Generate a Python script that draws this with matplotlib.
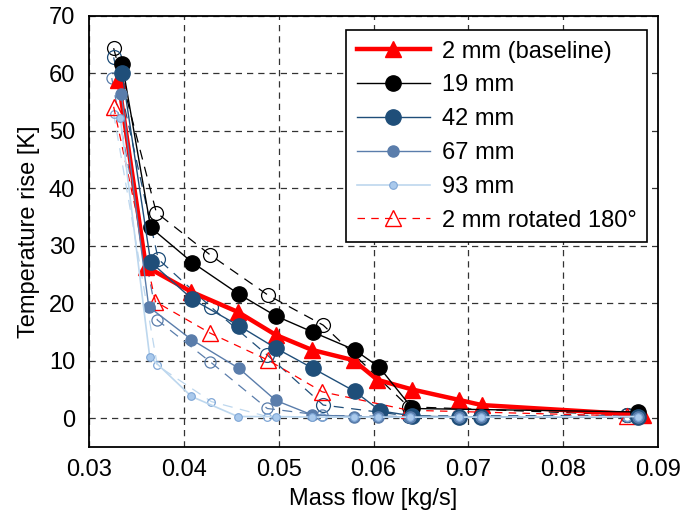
import matplotlib
matplotlib.use("Agg")
import matplotlib.pyplot as plt

# ---- data ----
m_2mm = [0.0331, 0.0360, 0.0408, 0.0457, 0.0497, 0.0535, 0.0579, 0.0604, 0.0641, 0.0690, 0.0714, 0.0884]
t_2mm = [58.8, 26.4, 22.0, 18.5, 14.5, 11.9, 10.1, 6.7, 5.0, 3.2, 2.3, 0.6]

m_19 = [0.0335, 0.0365, 0.0409, 0.0458, 0.0497, 0.0536, 0.0580, 0.0606, 0.0641, 0.0879]
t_19 = [61.7, 33.2, 27.1, 21.6, 17.8, 15.0, 11.9, 8.9, 1.7, 1.1]

m_42 = [0.0335, 0.0365, 0.0409, 0.0458, 0.0497, 0.0536, 0.0580, 0.0607, 0.0641, 0.0690, 0.0713, 0.0879]
t_42 = [60.0, 27.2, 20.7, 16.1, 12.2, 8.7, 4.7, 1.3, 0.4, 0.2, 0.2, 0.3]

m_67 = [0.0334, 0.0363, 0.0408, 0.0458, 0.0497, 0.0535, 0.0579, 0.0605, 0.0638, 0.0690, 0.0713, 0.0879]
t_67 = [56.5, 19.4, 13.7, 8.7, 3.1, 0.6, 0.3, 0.2, 0.2, 0.2, 0.2, 0.3]

m_93 = [0.0333, 0.0364, 0.0408, 0.0457, 0.0497, 0.0535, 0.0579, 0.0605, 0.0638, 0.0690, 0.0713, 0.0879]
t_93 = [52.3, 10.7, 3.8, 0.3, 0.3, 0.2, 0.2, 0.2, 0.2, 0.2, 0.2, 0.3]

# rotated 180 deg (open markers, dashed)
m_2mm_r = [0.0326, 0.0370, 0.0428, 0.0489, 0.0546, 0.0637, 0.0867]
t_2mm_r = [54.2, 20.3, 14.8, 10.1, 4.6, 1.4, 0.4]

m_19_r = [0.0326, 0.0371, 0.0428, 0.0489, 0.0547, 0.0637, 0.0867]
t_19_r = [64.4, 35.8, 28.4, 21.4, 16.2, 2.0, 0.6]

m_42_r = [0.0326, 0.0373, 0.0429, 0.0488, 0.0547, 0.0637, 0.0867]
t_42_r = [62.8, 27.7, 19.3, 11.0, 2.3, 0.4, 0.5]

m_67_r = [0.0324, 0.0372, 0.0428, 0.0488, 0.0546, 0.0637, 0.0867]
t_67_r = [59.2, 17.1, 9.8, 1.7, 0.5, 0.3, 0.4]

m_93_r = [0.0326, 0.0372, 0.0429, 0.0488, 0.0546, 0.0637, 0.0867]
t_93_r = [53.0, 9.2, 2.9, 0.3, 0.2, 0.2, 0.3]

x_ticks = [0.03, 0.04, 0.05, 0.06, 0.07, 0.08, 0.09]
x_ticklabels = ["0.03", "0.04", "0.05", "0.06", "0.07", "0.08", "0.09"]
y_ticks = [0, 10, 20, 30, 40, 50, 60, 70]

labels = ["2 mm (baseline)", "19 mm", "42 mm", "67 mm", "93 mm", "2 mm rotated 180°"]

# ---- style ----
plt.rcParams['font.family'] = ['Liberation Sans', 'DejaVu Sans']
FS = 17

RED = '#ff0000'
BLACK = '#000000'
DARK = '#1f4e79'
MID = '#5a7dab'
LIGHT_FACE = '#a9c9ec'
LIGHT_EDGE = '#7ea6d6'
LIGHT_LINE = '#bdd7ee'

fig = plt.figure(figsize=(6.83, 5.14), dpi=100)
ax = fig.add_axes([89/683, 67/514, (658-89)/683, (447-16)/514])

dash = (0, (8, 6))

# rotated series (dashed, open markers)
ax.plot(m_19_r, t_19_r, linestyle=dash, color=BLACK, lw=0.9, marker='o', ms=10,
        mfc='none', mec=BLACK, mew=0.9, label='_nolegend_', zorder=2)
ax.plot(m_42_r, t_42_r, linestyle=dash, color=DARK, lw=0.9, marker='o', ms=10,
        mfc='none', mec=DARK, mew=0.9, label='_nolegend_', zorder=2)
ax.plot(m_67_r, t_67_r, linestyle=dash, color=MID, lw=0.9, marker='o', ms=8,
        mfc='none', mec=MID, mew=0.9, label='_nolegend_', zorder=2)
ax.plot(m_93_r, t_93_r, linestyle=dash, color=LIGHT_LINE, lw=0.9, marker='o', ms=5.5,
        mfc='none', mec=LIGHT_EDGE, mew=0.9, label='_nolegend_', zorder=2)

# baseline
l_2 = ax.plot(m_2mm, t_2mm, '-', color=RED, lw=3.2, marker='^', ms=12,
              mfc=RED, mec=RED, label=labels[0], zorder=3)[0]
l_19 = ax.plot(m_19, t_19, '-', color=BLACK, lw=1.0, marker='o', ms=11,
               mfc=BLACK, mec=BLACK, label=labels[1], zorder=4)[0]
l_42 = ax.plot(m_42, t_42, '-', color=DARK, lw=1.0, marker='o', ms=11,
               mfc=DARK, mec=DARK, label=labels[2], zorder=4)[0]
l_67 = ax.plot(m_67, t_67, '-', color=MID, lw=1.0, marker='o', ms=8,
               mfc=MID, mec=MID, label=labels[3], zorder=4)[0]
l_93 = ax.plot(m_93, t_93, '-', color=LIGHT_LINE, lw=1.2, marker='o', ms=5.5,
               mfc=LIGHT_FACE, mec=LIGHT_EDGE, mew=0.8, label=labels[4], zorder=4)[0]
l_2r = ax.plot(m_2mm_r, t_2mm_r, linestyle=(0, (6, 5)), color=RED, lw=0.9, marker='^', ms=12,
               mfc='none', mec=RED, mew=1.0, label=labels[5], zorder=3)[0]

ax.set_xlim(0.03, 0.09)
ax.set_ylim(-5, 70)
ax.set_xticks(x_ticks)
ax.set_xticklabels(x_ticklabels)
ax.set_yticks(y_ticks)
ax.tick_params(axis='both', length=0, labelsize=FS)
ax.tick_params(axis='x', pad=9)
ax.tick_params(axis='y', pad=10)

ax.grid(True, color='#333333', linestyle=(0, (5, 4)), linewidth=0.9)
ax.set_axisbelow(True)
for s in ax.spines.values():
    s.set_linewidth(1.3)
    s.set_color('black')

ax.set_xlabel("Mass flow [kg/s]", fontsize=FS, labelpad=5)
ax.set_ylabel("Temperature rise [K]", fontsize=FS, labelpad=6)

leg = ax.legend(handles=[l_2, l_19, l_42, l_67, l_93, l_2r], labels=labels,
                loc='upper right', bbox_to_anchor=(0.981, 0.9675), borderaxespad=0,
                fontsize=FS, handlelength=3.1, labelspacing=0.5, handletextpad=0.5,
                borderpad=0.45, fancybox=False, framealpha=1, edgecolor='black')
leg.get_frame().set_linewidth(1.2)

fig.savefig("out.png", dpi=100)
